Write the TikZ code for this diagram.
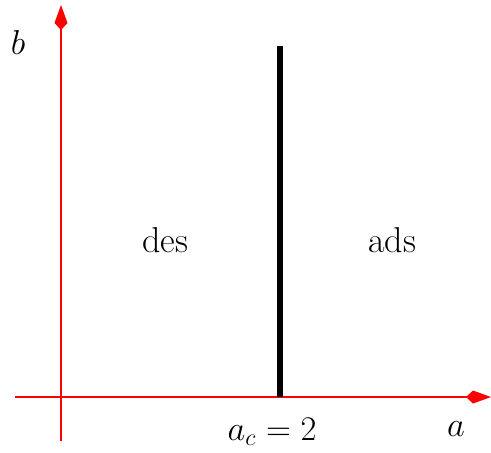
\documentclass[tikz,border=0pt]{standalone}
\usetikzlibrary{arrows.meta}
\tikzset{
  axis/.style   = {draw=red, line width=0.75pt,
                   -{Kite[length=12.5pt, width=6.5pt, inset=3.5pt]}},
  crit/.style   = {line width=3pt},
  lbl/.style    = {font=\fontsize{18}{20}\selectfont, inner sep=0pt},
}

\begin{document}
\begin{tikzpicture}[x=0.5pt, y=-0.5pt]
  \useasboundingbox (0,0) rectangle (491,452);
  % axes
  \coordinate (o1) at (15,397);
  \coordinate (x1) at (491,397);
  \coordinate (o2) at (61,441);
  \coordinate (y1) at (61,5);
  \draw[axis] (o1) -- (x1);
  \draw[axis] (o2) -- (y1);
  % critical line
  \coordinate (c0) at (280,397);
  \coordinate (c1) at (280,46);
  \draw[crit] (c0) -- (c1);
  % labels
  \node[lbl] (lb) at (18,42)   {$b$};
  \node[lbl] (la) at (456,429) {$a$};
  \node[lbl] (ld) at (165,240) {des};
  \node[lbl] (lr) at (392,240) {ads};
  \node[lbl] (lc) at (272,432) {$a_c = 2$};
\end{tikzpicture}
\end{document}
